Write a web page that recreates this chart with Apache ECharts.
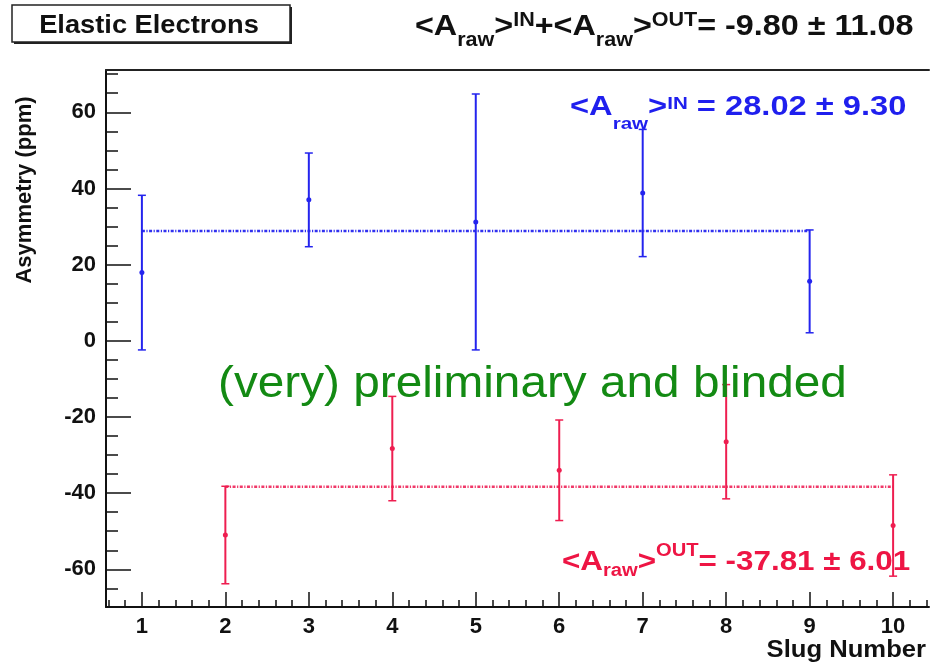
<!DOCTYPE html>
<html><head><meta charset="utf-8">
<script src="https://cdn.jsdelivr.net/npm/echarts@6/dist/echarts.min.js"></script>
<style>html,body{margin:0;padding:0;background:#fff}#c{width:930px;height:666px}</style>
</head><body><div id="c"></div>
<script>
// ---- data ----
const slugsIn  = [1, 3, 5, 7, 9];
const asymIn   = [17.9, 37.0, 31.2, 38.8, 15.6];
const errIn    = [20.3, 12.3, 33.6, 16.7, 13.5];
const slugsOut = [2, 4, 6, 8, 10];
const asymOut  = [-51.0, -28.3, -34.0, -26.5, -48.5];
const errOut   = [12.8, 13.7, 13.2, 15.0, 13.3];
const meanInLevel  = 28.8;   // dotted line level (IN)
const meanOutLevel = -38.3;  // dotted line level (OUT)
const meanInSpan  = [1, 9];
const meanOutSpan = [2, 10];
const xTickLabels = [1, 2, 3, 4, 5, 6, 7, 8, 9, 10];
const yTickLabels = [-60, -40, -20, 0, 20, 40, 60];
const xRange = [0.57, 10.43];
const yRange = [-69.9, 71.1];

const xMinor = [];
for (let i = 3; i <= 52; i++) { const v = Math.round(i * 0.2 * 10) / 10; if (Math.abs(v - Math.round(v)) > 1e-6) xMinor.push(v); }
const yMinor = [];
for (let v = -65; v <= 70; v += 5) { if (v % 20 !== 0) yMinor.push(v); }

const BLUE = '#2424ee', RED = '#ee1e50', FONT = 'Liberation Sans, Arial, Helvetica, sans-serif';
const K = 0.35; // 'middle' to alphabetic baseline offset, in em

function errBar(color) {
  return function (params, api) {
    const x = api.value(0), y = api.value(1), e = api.value(2);
    const c = api.coord([x, y]), t = api.coord([x, y + e]), b = api.coord([x, y - e]);
    const cw = 4;
    return { type: 'group', children: [
      { type: 'line', shape: { x1: t[0], y1: t[1], x2: b[0], y2: b[1] }, style: { stroke: color, lineWidth: 2 } },
      { type: 'line', shape: { x1: t[0] - cw, y1: t[1], x2: t[0] + cw, y2: t[1] }, style: { stroke: color, lineWidth: 1.5 } },
      { type: 'line', shape: { x1: b[0] - cw, y1: b[1], x2: b[0] + cw, y2: b[1] }, style: { stroke: color, lineWidth: 1.5 } },
      { type: 'circle', shape: { cx: c[0], cy: c[1], r: 2.5 }, style: { fill: color } }
    ]};
  };
}

const mctx = document.createElement('canvas').getContext('2d');
function measure(t, size, weight) { mctx.font = (weight || 'bold') + ' ' + size + 'px ' + FONT; return mctx.measureText(t).width; }

// label made of pieces [text, fontSize, baselineOffset]
function latex(x, baseline, sx, color, parts) {
  let cur = 0; const children = [];
  parts.forEach(p => {
    const [t, size, dy] = p;
    children.push({ type: 'text', x: cur, y: dy - K * size,
      style: { text: t, align: 'left', verticalAlign: 'middle', fontSize: size, fontWeight: 'bold', fontFamily: FONT, fill: color } });
    cur += measure(t, size);
  });
  return { type: 'group', x: x, y: baseline, scaleX: sx, z: 100, children: children };
}

const chart = echarts.init(document.getElementById('c'), null, { renderer: 'canvas' });
const axisTextStyle = { fontSize: 22, fontWeight: 'bold', fontFamily: FONT, color: '#111' };
chart.setOption({
  animation: false,
  backgroundColor: '#fff',
  grid: { left: 106, right: 1, top: 70, bottom: 59 },
  xAxis: [
    { type: 'value', min: xRange[0], max: xRange[1], position: 'bottom',
      axisLine: { show: true, onZero: false, lineStyle: { color: '#111', width: 2 } },
      axisTick: { show: true, inside: true, length: 15, customValues: xTickLabels, lineStyle: { color: '#111', width: 1.5 } },
      axisLabel: { show: true, margin: 9, customValues: xTickLabels, ...axisTextStyle },
      splitLine: { show: false } },
    { type: 'value', min: xRange[0], max: xRange[1], position: 'bottom',
      axisLine: { show: false, onZero: false },
      axisTick: { show: true, inside: true, length: 7, customValues: xMinor, lineStyle: { color: '#111', width: 1.5 } },
      axisLabel: { show: false }, splitLine: { show: false } },
    { type: 'value', min: xRange[0], max: xRange[1], position: 'top',
      axisLine: { show: true, onZero: false, lineStyle: { color: '#222', width: 2 } },
      axisTick: { show: false }, axisLabel: { show: false }, splitLine: { show: false } }
  ],
  yAxis: [
    { type: 'value', min: yRange[0], max: yRange[1], position: 'left',
      axisLine: { show: true, onZero: false, lineStyle: { color: '#111', width: 2 } },
      axisTick: { show: true, inside: true, length: 25, customValues: yTickLabels, lineStyle: { color: '#111', width: 1.5 } },
      axisLabel: { show: true, margin: 10, customValues: yTickLabels, ...axisTextStyle },
      splitLine: { show: false } },
    { type: 'value', min: yRange[0], max: yRange[1], position: 'left',
      axisLine: { show: false, onZero: false },
      axisTick: { show: true, inside: true, length: 12, customValues: yMinor, lineStyle: { color: '#111', width: 1.5 } },
      axisLabel: { show: false }, splitLine: { show: false } }
  ],
  series: [
    { type: 'line', name: 'meanIn', data: meanInSpan.map(x => [x, meanInLevel]), showSymbol: false, silent: true,
      lineStyle: { color: '#3030f0', width: 2.5, type: [3, 1.5, 1.2, 1.5] }, z: 2 },
    { type: 'line', name: 'meanOut', data: meanOutSpan.map(x => [x, meanOutLevel]), showSymbol: false, silent: true,
      lineStyle: { color: '#f03868', width: 2.5, type: [3, 1.5, 1.2, 1.5] }, z: 2 },
    { type: 'custom', name: 'IN', renderItem: errBar(BLUE), data: slugsIn.map((s, i) => [s, asymIn[i], errIn[i]]), z: 3 },
    { type: 'custom', name: 'OUT', renderItem: errBar(RED), data: slugsOut.map((s, i) => [s, asymOut[i], errOut[i]]), z: 3 }
  ],
  graphic: [
    { type: 'rect', shape: { x: 14, y: 7, width: 278, height: 37 }, style: { fill: '#222' }, z: 90 },
    { type: 'rect', shape: { x: 12, y: 5, width: 278, height: 37 }, style: { fill: '#fff', stroke: '#222', lineWidth: 1.5 }, z: 91 },
    { type: 'text', x: 149, y: 35 - K * 25, scaleX: 1.09, z: 100, style: { text: 'Elastic Electrons', align: 'center', verticalAlign: 'middle',
        fontSize: 25, fontWeight: 'bold', fontFamily: FONT, fill: '#111' } },
    latex(415, 37, 1.077, '#111', [['<A', 30, 0], ['raw', 20, 10], ['>', 30, 0], ['IN', 20, -10], ['+<A', 30, 0], ['raw', 20, 10], ['>', 30, 0], ['OUT', 20, -10], ['= -9.80 ± 11.08', 30, 0]]),
    latex(570, 117, 1.21, '#1f1fee', [['<A', 27, 0], ['raw', 17, 13], ['>', 27, 0], ['IN', 17, -7], [' = 28.02 ± 9.30', 27, 0]]),
    latex(562, 572, 1.12, '#ee1544', [['<A', 28, 0], ['raw', 18, 5], ['>', 28, 0], ['OUT', 18, -15], ['= -37.81 ± 6.01', 28, 0]]),
    { type: 'text', x: 218, y: 400 - K * 44, scaleX: 1.085, z: 100, style: { text: '(very) preliminary and blinded', align: 'left', verticalAlign: 'middle',
        fontSize: 44, fontFamily: FONT, fill: '#138a13' } },
    { type: 'text', x: 25, y: 190, rotation: Math.PI / 2, z: 100, style: { text: 'Asymmetry (ppm)', align: 'center', verticalAlign: 'middle',
        fontSize: 22, fontWeight: 'bold', fontFamily: FONT, fill: '#111' } },
    { type: 'text', x: 926, y: 659 - K * 23.5, scaleX: 1.09, z: 100, style: { text: 'Slug Number', align: 'right', verticalAlign: 'middle',
        fontSize: 23.5, fontWeight: 'bold', fontFamily: FONT, fill: '#111' } }
  ]
});
</script></body></html>
